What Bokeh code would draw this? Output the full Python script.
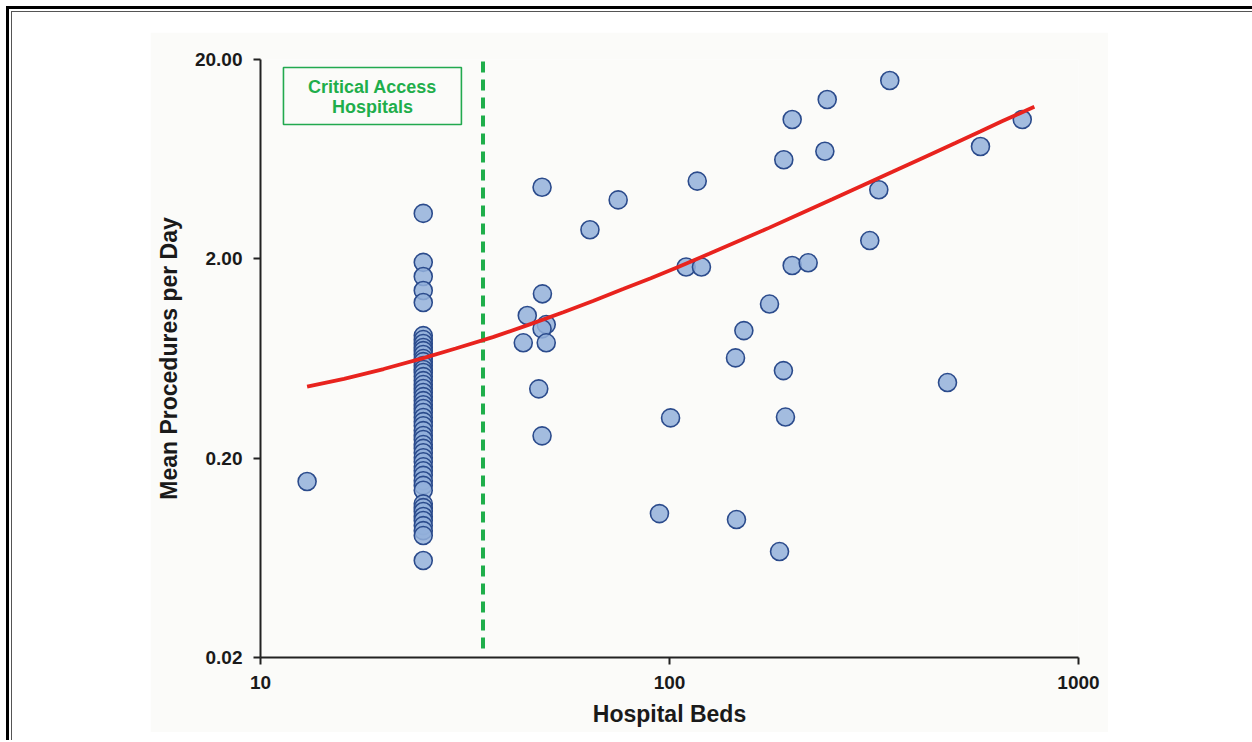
from bokeh.plotting import figure
from bokeh.models import FixedTicker, BoxAnnotation, ColumnDataSource
from bokeh.layouts import column
from bokeh.core.properties import value
from bokeh.embed import file_html
from bokeh.resources import INLINE

# ---- data ----
# Critical access hospitals (25 beds)
cah_beds = [25] * 52
cah_procs = [3.38, 1.92, 1.63, 1.387, 1.207,
             0.824, 0.787, 0.752, 0.718, 0.693, 0.662, 0.632, 0.610, 0.583, 0.557,
             0.538, 0.513, 0.490, 0.468, 0.447, 0.427, 0.407, 0.389, 0.371, 0.355,
             0.339, 0.320, 0.305, 0.291, 0.275, 0.260, 0.248, 0.234, 0.224, 0.213,
             0.201, 0.192, 0.181, 0.173, 0.164, 0.154, 0.146, 0.138,
             0.118, 0.113, 0.108, 0.102, 0.0973, 0.0918, 0.0866, 0.0818,
             0.0613]

# Other hospitals
oth_beds = [13, 48.8, 74.9, 63.9, 116.9, 109.8, 119.7, 48.9, 44.9, 49.96,
            48.8, 43.9, 49.96, 47.9, 48.8, 100.6, 94.5, 145.8, 185.8, 145.0,
            152.0, 175.6, 189.9, 192.1, 199.5, 218.3, 190.3, 199.5, 243.0, 239.8,
            345.6, 308.8, 324.9, 478.3, 575.9, 728.6]
oth_procs = [0.1527, 4.57, 3.95, 2.80, 4.91, 1.82, 1.82, 1.335, 1.039, 0.936,
             0.891, 0.758, 0.758, 0.4454, 0.2588, 0.3185, 0.1054, 0.0984, 0.0680, 0.637,
             0.873, 1.186, 0.550, 0.3215, 1.851, 1.91, 6.28, 10.0, 12.6, 6.93,
             15.7, 2.47, 4.44, 0.479, 7.32, 10.0]

# Fitted curve
fit_beds = [13, 16, 20, 25, 30, 37, 45, 55, 65, 77, 90, 105, 125, 150, 175,
            210, 250, 300, 350, 420, 500, 575, 650, 715, 780]
fit_procs = [0.457, 0.50, 0.56, 0.635, 0.71, 0.81, 0.93, 1.08, 1.23, 1.41, 1.60,
             1.82, 2.12, 2.49, 2.86, 3.39, 3.98, 4.72, 5.45, 6.47, 7.62, 8.70,
             9.80, 10.70, 11.60]

y_ticks = [0.02, 0.2, 2, 20]
y_tick_labels = ["0.02", "0.20", "2.00", "20.00"]
x_ticks = [10, 100, 1000]
x_tick_labels = ["10", "100", "1000"]

cah_threshold = 35
annot_lines = ["Critical Access", "Hospitals"]

# ---- styles ----
BG = "#fbfbf9"
GREEN = "#1fae4b"
FONT = "Liberation Sans"

src = ColumnDataSource(dict(x=cah_beds + oth_beds, y=cah_procs + oth_procs))

p = figure(width=958, height=700, x_axis_type="log", y_axis_type="log",
           x_range=(10, 1000), y_range=(0.02, 20),
           output_backend="svg", toolbar_location=None,
           background_fill_color=BG, border_fill_color=BG,
           min_border_left=110, min_border_right=30,
           min_border_top=27, min_border_bottom=75)
p.outline_line_color = None
p.grid.visible = False

for ax in (p.xaxis[0], p.yaxis[0]):
    ax.axis_line_color = "#222222"
    ax.axis_line_width = 2
    ax.major_tick_line_color = "#222222"
    ax.major_tick_line_width = 2
    ax.major_tick_out = 7
    ax.major_tick_in = 0
    ax.minor_tick_line_color = None
    ax.major_label_text_font = FONT
    ax.major_label_text_font_style = "bold"
    ax.major_label_text_font_size = "19px"
    ax.major_label_text_color = "#1a1a1a"
    ax.axis_label_text_font = FONT
    ax.axis_label_text_font_style = "bold"
    ax.axis_label_text_font_size = "23px"
    ax.axis_label_text_color = "#1a1a1a"

p.xaxis.ticker = FixedTicker(ticks=x_ticks)
p.xaxis.major_label_overrides = {t: l for t, l in zip(x_ticks, x_tick_labels)}
p.yaxis.ticker = FixedTicker(ticks=y_ticks)
p.yaxis.major_label_overrides = {t: l for t, l in zip(y_ticks, y_tick_labels)}
p.xaxis.axis_label = "Hospital Beds"
p.yaxis.axis_label = "Mean Procedures per Day"
p.xaxis.major_label_standoff = 11
p.yaxis.major_label_standoff = 11
p.xaxis.axis_label_standoff = 9
p.yaxis.axis_label_standoff = 10

# dashed CAH threshold
p.segment(x0=[cah_threshold], y0=[0.0222], x1=[cah_threshold], y1=[20],
          line_color=GREEN, line_width=4, line_dash="11 7")

# annotation box
p.add_layout(BoxAnnotation(left=11.38, right=30.99, bottom=9.44, top=18.24,
                           fill_alpha=0.0, line_color="#22a94f", line_alpha=1.0,
                           line_width=1.6))
p.text(x=[18.78, 18.78], y=[14.64, 11.62], text=annot_lines,
       text_align="center", text_baseline="middle",
       text_font=value(FONT), text_font_style="bold", text_font_size="18px",
       text_color=GREEN)

# scatter
p.scatter("x", "y", source=src, size=18, marker="circle",
          fill_color="#93b0db", fill_alpha=0.85,
          line_color="#2b4b8c", line_width=1.6)

# regression curve
p.line(fit_beds, fit_procs, line_color="#e8231e", line_width=3.8)

inner = column(p, styles={"border-left": "1px solid #555", "border-top": "1px solid #555",
                          "padding": "20px 144px 8px 138px", "background": "white"})
outer = column(inner, styles={"border-left": "3px solid #000", "border-top": "3px solid #000",
                              "padding": "2px 0px 0px 2px", "background": "white"})
wrap = column(outer, styles={"padding": "6px 0px 0px 6px", "background": "white"})

open("out.html", "w").write(file_html(wrap, INLINE))
